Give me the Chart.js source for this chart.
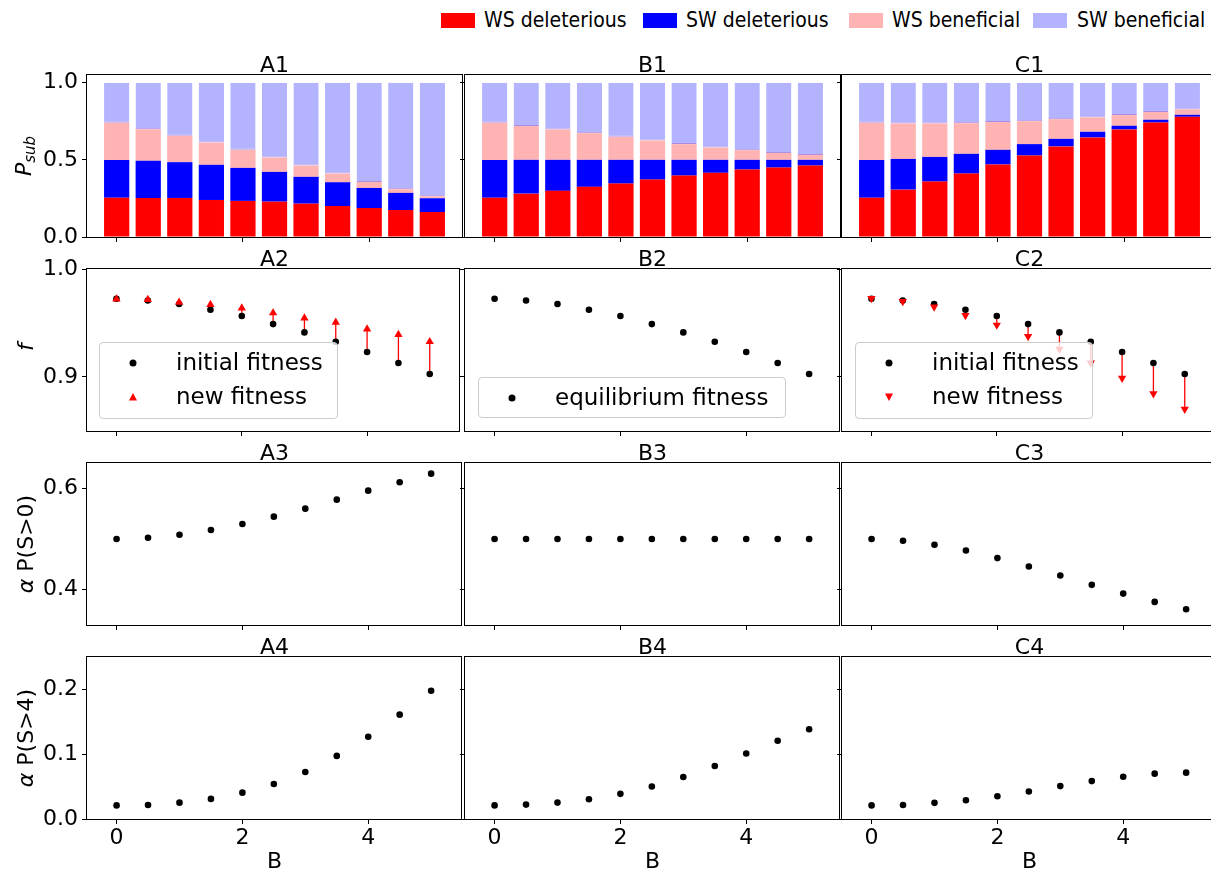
<!DOCTYPE html>
<html>
<head>
<meta charset="utf-8">
<script src="https://cdn.jsdelivr.net/npm/chart.js@4.4.1/dist/chart.umd.min.js"></script>
<style>
  html, body { margin:0; padding:0; background:#fff; }
  body { width:1211px; height:870px; overflow:hidden; position:relative; font-family:'DejaVu Sans', sans-serif; color:#000; }
  canvas { position:absolute; }
  .txt { position:absolute; white-space:nowrap; font-size:22px; line-height:22px; }
  .ctr { transform:translateX(-50%); }
  .ylab { position:absolute; white-space:nowrap; font-size:22px; line-height:22px; transform:translate(-50%,-50%) rotate(-90deg); }
  .leg { position:absolute; background:rgba(255,255,255,0.8); border:1px solid #cccccc; border-radius:4px; box-sizing:border-box; }
  .leg .item { position:absolute; font-size:23px; line-height:23px; white-space:nowrap; }
  .leg svg { position:absolute; }
  .topleg .sw { position:absolute; height:15px; width:34px; top:13px; }
  .topleg .lt { position:absolute; top:9px; font-size:21px; line-height:22px; white-space:nowrap; transform:scaleX(0.9); transform-origin:left center; }
</style>
</head>
<body>
<script>
// ---- data ----
const B_VALUES = [0, 0.5, 1, 1.5, 2, 2.5, 3, 3.5, 4, 4.5, 5];

// substitution probabilities (stacked)
const wsDelA = [0.254, 0.253, 0.253, 0.240, 0.234, 0.229, 0.216, 0.201, 0.188, 0.175, 0.162];
const swDelA = [0.245, 0.241, 0.232, 0.228, 0.214, 0.193, 0.174, 0.154, 0.130, 0.111, 0.089];
const wsBenA = [0.241, 0.205, 0.171, 0.144, 0.117, 0.093, 0.073, 0.056, 0.039, 0.024, 0.013];
const swBenA = [0.260, 0.301, 0.344, 0.388, 0.435, 0.485, 0.537, 0.589, 0.643, 0.690, 0.736];

const wsDelB = [0.254, 0.281, 0.299, 0.325, 0.346, 0.372, 0.398, 0.416, 0.437, 0.450, 0.463];
const swDelB = [0.245, 0.219, 0.201, 0.175, 0.154, 0.128, 0.102, 0.084, 0.063, 0.050, 0.037];
const wsBenB = [0.241, 0.219, 0.197, 0.173, 0.149, 0.125, 0.102, 0.080, 0.063, 0.045, 0.032];
const swBenB = [0.260, 0.281, 0.303, 0.327, 0.351, 0.375, 0.398, 0.420, 0.437, 0.455, 0.468];

const wsDelC = [0.254, 0.307, 0.359, 0.411, 0.470, 0.528, 0.587, 0.645, 0.697, 0.742, 0.779];
const swDelC = [0.245, 0.199, 0.160, 0.128, 0.095, 0.074, 0.049, 0.037, 0.024, 0.018, 0.013];
const wsBenC = [0.241, 0.230, 0.217, 0.199, 0.180, 0.149, 0.128, 0.093, 0.069, 0.050, 0.035];
const swBenC = [0.260, 0.264, 0.264, 0.262, 0.255, 0.249, 0.236, 0.225, 0.210, 0.190, 0.173];

// fitness
const fitInitial = [0.9725, 0.9709, 0.9676, 0.9623, 0.9565, 0.9490, 0.9413, 0.9327, 0.9231, 0.9130, 0.9028];
const fitNewA    = [0.9722, 0.9716, 0.9691, 0.9670, 0.9639, 0.9593, 0.9546, 0.9506, 0.9444, 0.9392, 0.9327];
const fitEquilB  = [0.9725, 0.9709, 0.9676, 0.9623, 0.9565, 0.9490, 0.9413, 0.9327, 0.9231, 0.9130, 0.9028];
const fitNewC    = [0.9728, 0.9700, 0.9648, 0.9570, 0.9481, 0.9376, 0.9259, 0.9130, 0.8990, 0.8845, 0.8703];

// alpha P(S>0)
const pPosA = [0.500, 0.5024, 0.5083, 0.5176, 0.5295, 0.544, 0.5598, 0.5776, 0.5954, 0.612, 0.629];
const pPosB = [0.500, 0.500, 0.500, 0.500, 0.500, 0.500, 0.500, 0.500, 0.500, 0.500, 0.500];
const pPosC = [0.500, 0.4964, 0.4885, 0.4772, 0.4621, 0.4456, 0.4277, 0.4093, 0.392, 0.3756, 0.361];

// alpha P(S>4)
const pBigA = [0.021, 0.0216, 0.0252, 0.031, 0.0407, 0.054, 0.0726, 0.0974, 0.127, 0.161, 0.198];
const pBigB = [0.021, 0.0222, 0.0253, 0.0305, 0.0388, 0.0502, 0.0648, 0.0819, 0.101, 0.1207, 0.1384];
const pBigC = [0.021, 0.0217, 0.0249, 0.029, 0.0352, 0.0425, 0.0508, 0.0585, 0.0653, 0.070, 0.0715];

// tick labels
const X_TICKS = [0, 2, 4];
const Y_TICKS_SUB = [0.0, 0.5, 1.0];
const Y_TICKS_FIT = [0.9, 1.0];
const Y_TICKS_POS = [0.4, 0.6];
const Y_TICKS_BIG = [0.0, 0.1, 0.2];

const SERIES_NAMES = ['WS deleterious', 'SW deleterious', 'WS beneficial', 'SW beneficial'];
const SERIES_COLORS = ['#ff0000', '#0000ff', '#ffb3b3', '#b3b3ff'];

// ---- layout ----
const FONT = "'DejaVu Sans', sans-serif";
const COL_X = [87, 465, 842];
const ROW_Y = [75, 269, 463, 657];
const PW = 375, PH = 162;
const X_MIN = -0.47, X_MAX = 5.47;

Chart.defaults.font.family = FONT;
Chart.defaults.color = '#000';

const framePlugin = {
  id: 'frame',
  afterDraw(chart) {
    const { ctx, chartArea: a } = chart;
    ctx.save();
    ctx.strokeStyle = '#000';
    ctx.lineWidth = 1;
    const l = Math.round(a.left) - 0.5, t = Math.round(a.top) - 0.5;
    const r = Math.round(a.right) + 0.5, b = Math.round(a.bottom) + 0.5;
    ctx.strokeRect(l, t, r - l, b - t);
    ctx.restore();
  }
};

const pts = ys => B_VALUES.map((x, i) => ({ x, y: ys[i] }));
const arrowPts = (from, to) => {
  const out = [];
  B_VALUES.forEach((x, i) => { out.push({ x, y: from[i] }, { x, y: to[i] }, { x, y: null }); });
  return out;
};

function el(tag, cls, html, style) {
  const e = document.createElement(tag);
  if (cls) e.className = cls;
  if (html != null) e.innerHTML = html;
  Object.assign(e.style, style || {});
  document.body.appendChild(e);
  return e;
}

function makePanel(row, col, kind, datasets, yMin, yMax, yTicks) {
  const padL = col === 0 ? 86 : 8, padR = 2, padT = 16, padB = row === 3 ? 44 : 16;
  const w = PW + padL + padR, h = PH + padT + padB;
  const cv = document.createElement('canvas');
  cv.width = w; cv.height = h;
  cv.style.width = w + 'px'; cv.style.height = h + 'px';
  cv.style.left = (COL_X[col] - padL) + 'px';
  cv.style.top = (ROW_Y[row] - padT) + 'px';
  document.body.appendChild(cv);

  const isBar = kind === 'bar';
  const tickGrid = { display: true, drawOnChartArea: false, drawTicks: true, tickLength: 5,
                     color: '#000', lineWidth: 1, offset: false };

  new Chart(cv, {
    type: kind,
    data: { datasets },
    plugins: [framePlugin],
    options: {
      responsive: false,
      animation: false,
      devicePixelRatio: 1,
      layout: { padding: { top: padT, right: padR, left: 0, bottom: 0 } },
      plugins: { legend: { display: false }, tooltip: { enabled: false }, title: { display: false } },
      scales: {
        x: {
          type: 'linear', min: X_MIN, max: X_MAX, stacked: isBar, offset: false,
          grid: tickGrid, border: { display: false },
          afterBuildTicks: a => { a.ticks = X_TICKS.map(v => ({ value: v })); },
          afterFit: a => { a.height = padB; a.paddingLeft = 0; a.paddingRight = 0; },
          ticks: { display: row === 3, color: '#000', font: { family: FONT, size: 22 }, padding: 1,
                   maxRotation: 0, autoSkip: false, callback: v => String(v) }
        },
        y: {
          type: 'linear', min: yMin, max: yMax, stacked: isBar, offset: false,
          grid: tickGrid, border: { display: false },
          afterBuildTicks: a => { a.ticks = yTicks.map(v => ({ value: v })); },
          afterFit: a => { a.width = padL; a.paddingTop = 0; a.paddingBottom = 0; },
          ticks: { display: col === 0, color: '#000', font: { family: FONT, size: 22 }, padding: 4,
                   autoSkip: false, callback: v => Number(v).toFixed(1) }
        }
      }
    }
  });
}

// ---- row 1: stacked substitution fractions ----
function barSets(groups) {
  return groups.map((ys, k) => {
    const ds = { label: SERIES_NAMES[k], data: pts(ys), backgroundColor: SERIES_COLORS[k],
                 barPercentage: 0.8, categoryPercentage: 1.0, borderWidth: 0 };
    if (k === 3) {
      ds.borderColor = '#a98be6';
      ds.borderWidth = { top: 0, left: 0, right: 0, bottom: 1 };
      ds.borderSkipped = false;
    }
    return ds;
  });
}
makePanel(0, 0, 'bar', barSets([wsDelA, swDelA, wsBenA, swBenA]), 0, 1.05, Y_TICKS_SUB);
makePanel(0, 1, 'bar', barSets([wsDelB, swDelB, wsBenB, swBenB]), 0, 1.05, Y_TICKS_SUB);
makePanel(0, 2, 'bar', barSets([wsDelC, swDelC, wsBenC, swBenC]), 0, 1.05, Y_TICKS_SUB);

// ---- row 2: fitness ----
const dots = ys => ({ data: pts(ys), pointRadius: 3.3, pointHoverRadius: 3.3, backgroundColor: '#000', borderWidth: 0 });
const tris = (ys, rot) => ({ data: pts(ys), pointStyle: 'triangle', pointRotation: rot, pointRadius: 4.8,
                             pointHoverRadius: 4.8, backgroundColor: '#ff0000', borderWidth: 0 });
const arrows = (from, to) => ({ data: arrowPts(from, to), showLine: true, spanGaps: false, pointRadius: 0,
                                borderColor: '#ff0000', borderWidth: 1.3 });

makePanel(1, 0, 'scatter', [tris(fitNewA, 0), dots(fitInitial), arrows(fitInitial, fitNewA)], 0.85, 1.0, Y_TICKS_FIT);
makePanel(1, 1, 'scatter', [dots(fitEquilB)], 0.85, 1.0, Y_TICKS_FIT);
makePanel(1, 2, 'scatter', [tris(fitNewC, 180), dots(fitInitial), arrows(fitInitial, fitNewC)], 0.85, 1.0, Y_TICKS_FIT);

// ---- row 3: alpha P(S>0) ----
makePanel(2, 0, 'scatter', [dots(pPosA)], 0.33, 0.65, Y_TICKS_POS);
makePanel(2, 1, 'scatter', [dots(pPosB)], 0.33, 0.65, Y_TICKS_POS);
makePanel(2, 2, 'scatter', [dots(pPosC)], 0.33, 0.65, Y_TICKS_POS);

// ---- row 4: alpha P(S>4) ----
makePanel(3, 0, 'scatter', [dots(pBigA)], 0, 0.25, Y_TICKS_BIG);
makePanel(3, 1, 'scatter', [dots(pBigB)], 0, 0.25, Y_TICKS_BIG);
makePanel(3, 2, 'scatter', [dots(pBigC)], 0, 0.25, Y_TICKS_BIG);

// ---- panel titles ----
const LETTERS = ['A', 'B', 'C'];
for (let r = 0; r < 4; r++) {
  for (let c = 0; c < 3; c++) {
    el('div', 'txt ctr', LETTERS[c] + (r + 1), { left: (COL_X[c] + PW / 2) + 'px', top: (ROW_Y[r] - 21) + 'px' });
  }
}

// ---- axis labels ----
for (let c = 0; c < 3; c++) {
  el('div', 'txt ctr', 'B', { left: (COL_X[c] + PW / 2) + 'px', top: '850px' });
}
el('div', 'ylab', '<i>P</i><sub style="font-size:15px;font-style:italic;vertical-align:-4px">sub</sub>', { left: '27px', top: (ROW_Y[0] + PH / 2) + 'px' });
el('div', 'ylab', '<i>f</i>', { left: '26px', top: (ROW_Y[1] + PH / 2 - 3) + 'px' });
el('div', 'ylab', '<i>α</i> P(S&gt;0)', { left: '26px', top: (ROW_Y[2] + PH / 2) + 'px' });
el('div', 'ylab', '<i>α</i> P(S&gt;4)', { left: '26px', top: (ROW_Y[3] + PH / 2) + 'px' });

// ---- in-panel legends ----
const dotSvg = '<svg width="10" height="10" viewBox="0 0 10 10"><circle cx="5" cy="5" r="3.5" fill="#000"/></svg>';
const triUp = '<svg width="10" height="10" viewBox="0 0 10 10"><polygon points="5,1 9,8.5 1,8.5" fill="#f00"/></svg>';
const triDown = '<svg width="10" height="10" viewBox="0 0 10 10"><polygon points="1,1.5 9,1.5 5,9" fill="#f00"/></svg>';

function panelLegend(left, top, width, height, entries) {
  const box = el('div', 'leg', '', { left: left + 'px', top: top + 'px', width: width + 'px', height: height + 'px' });
  entries.forEach(([svg, label], i) => {
    const cy = 20 + i * 34;
    const m = document.createElement('div');
    m.innerHTML = svg;
    const s = m.firstChild;
    s.style.left = (33 - 5) + 'px'; s.style.top = (cy - 5) + 'px';
    box.appendChild(s);
    const t = document.createElement('div');
    t.className = 'item';
    t.textContent = label;
    t.style.left = '76px'; t.style.top = (cy - 12) + 'px';
    box.appendChild(t);
  });
}
panelLegend(99, 342, 239, 77, [[dotSvg, 'initial fitness'], [triUp, 'new fitness']]);
panelLegend(478, 377, 308, 41, [[dotSvg, 'equilibrium fitness']]);
panelLegend(855, 342, 238, 77, [[dotSvg, 'initial fitness'], [triDown, 'new fitness']]);

// ---- figure legend ----
const topLeg = el('div', 'topleg', '', { position: 'absolute', left: '0px', top: '0px', width: '1211px', height: '40px' });
const SW_X = [441, 643, 849, 1033];
const TXT_X = [484, 686, 892, 1077];
SERIES_NAMES.forEach((name, k) => {
  const sw = document.createElement('div');
  sw.className = 'sw';
  sw.style.left = SW_X[k] + 'px';
  sw.style.background = SERIES_COLORS[k];
  topLeg.appendChild(sw);
  const t = document.createElement('div');
  t.className = 'lt';
  t.style.left = TXT_X[k] + 'px';
  t.textContent = name;
  topLeg.appendChild(t);
});
</script>
</body>
</html>
